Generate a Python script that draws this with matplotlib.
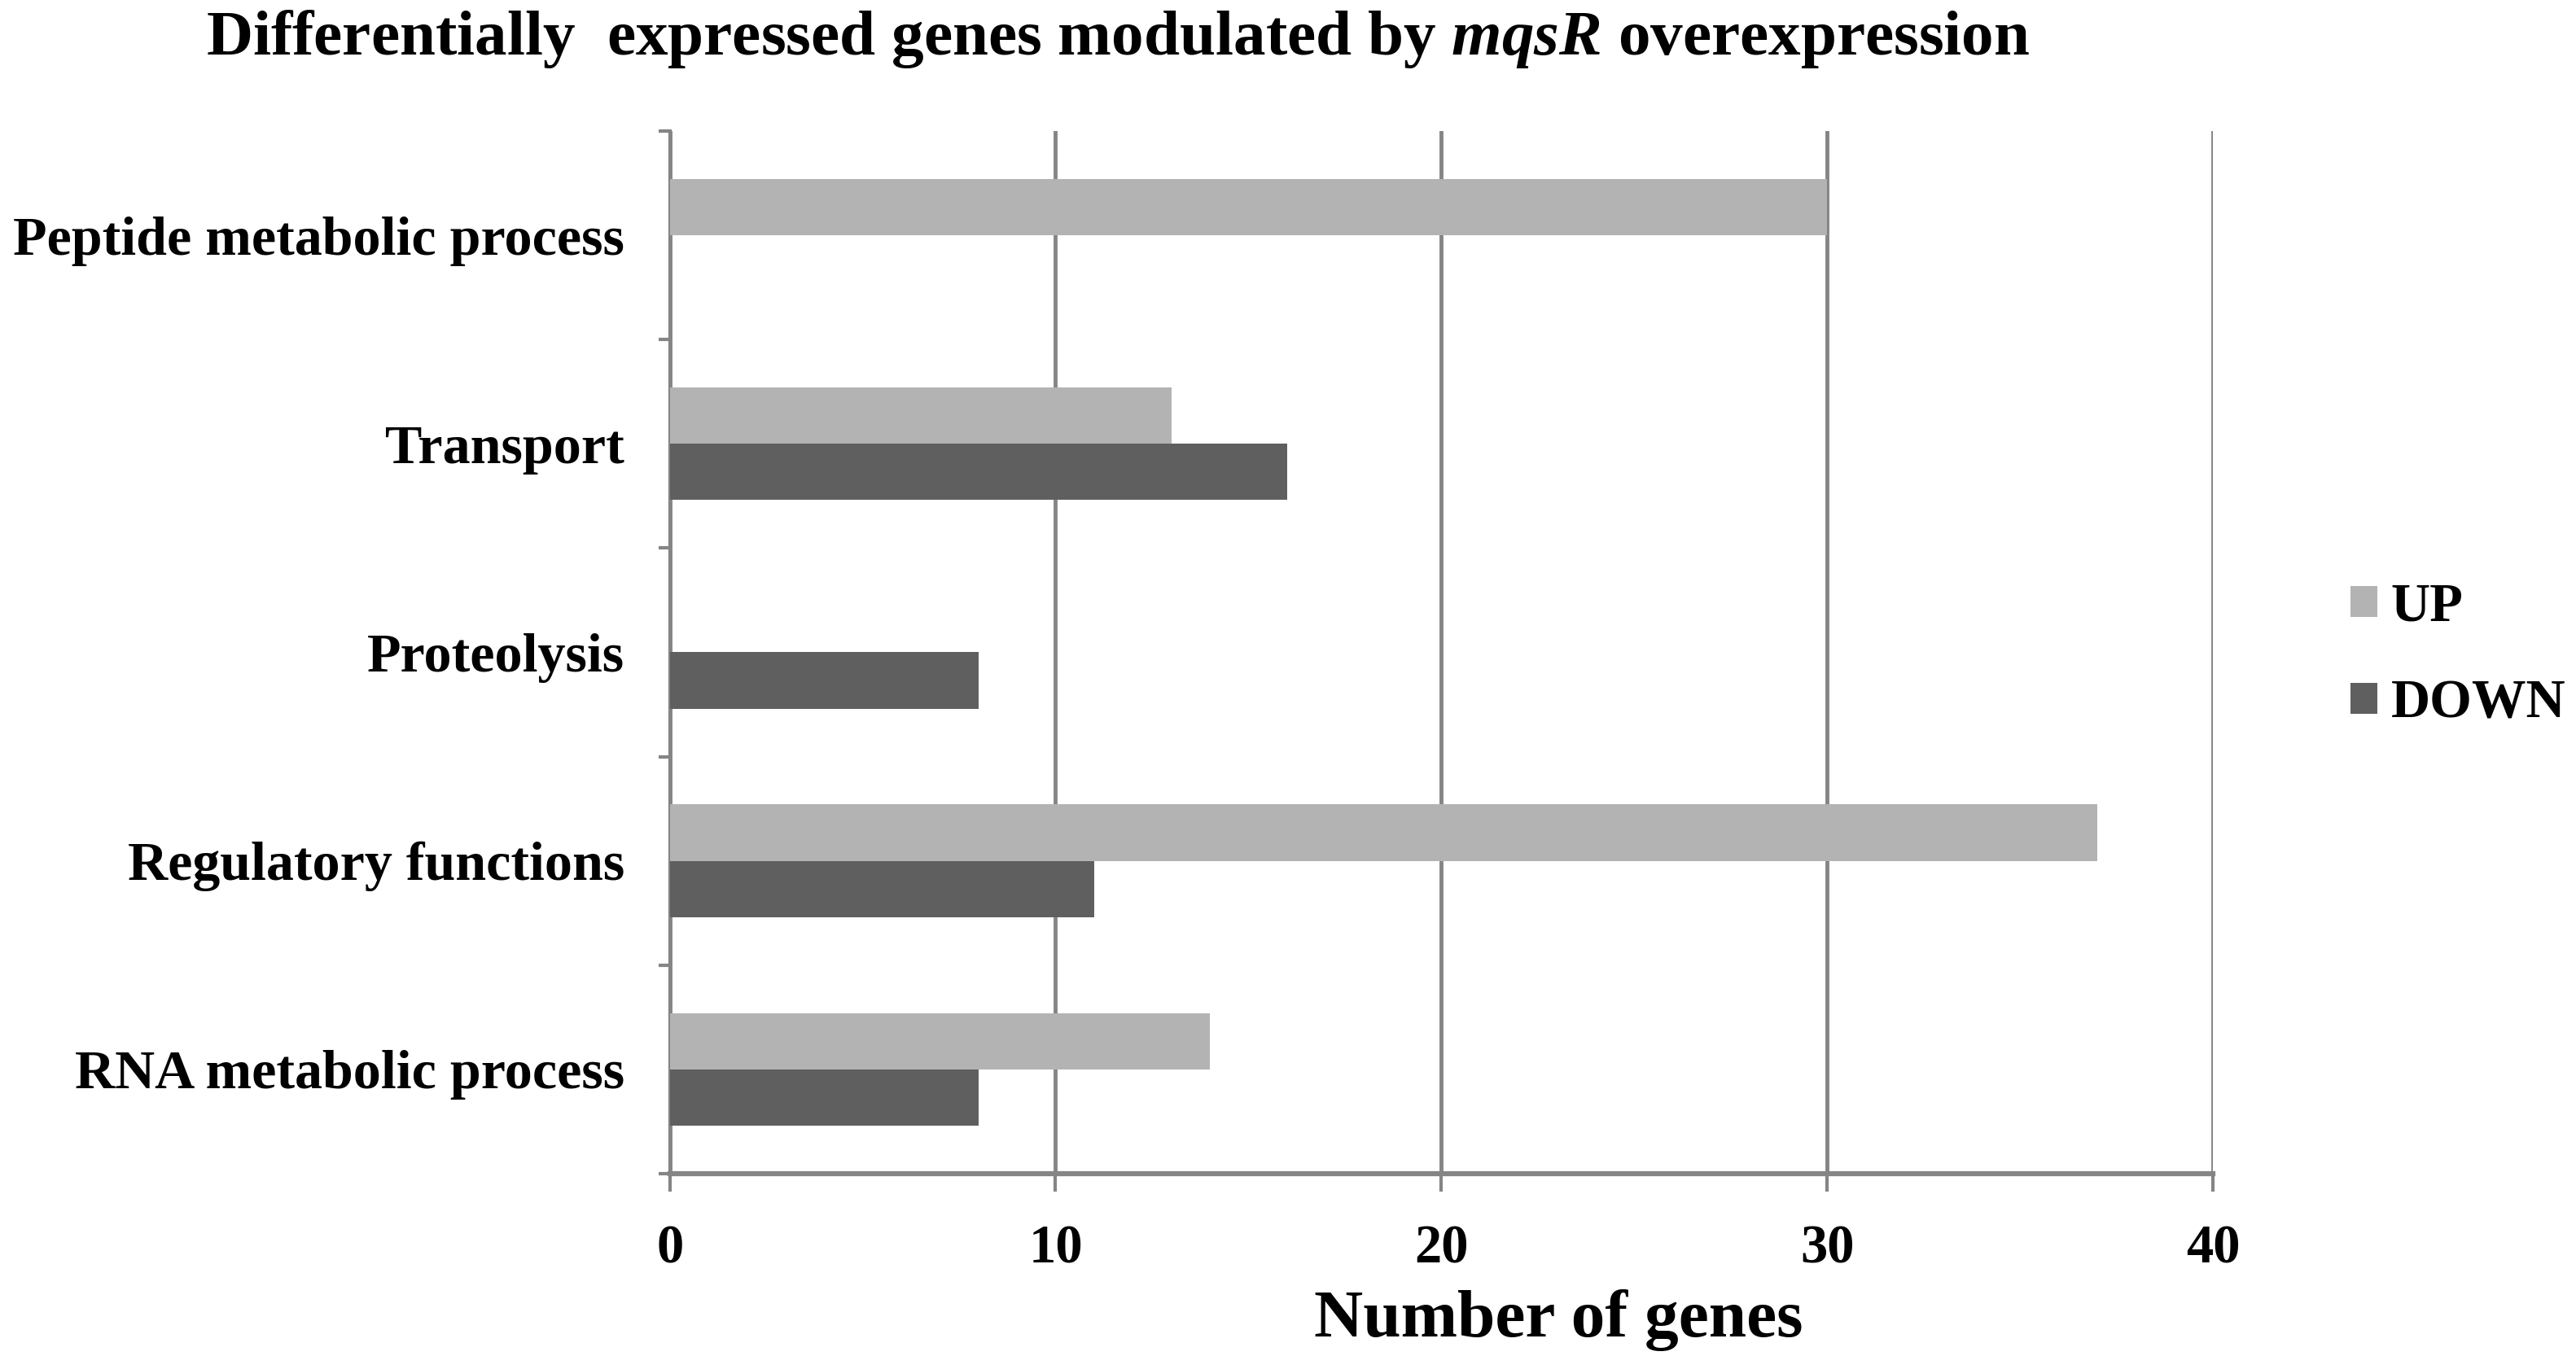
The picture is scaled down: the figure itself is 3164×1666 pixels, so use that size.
import matplotlib
matplotlib.use("Agg")
import matplotlib.pyplot as plt
import numpy as np

categories = ["Peptide metabolic process", "Transport", "Proteolysis",
              "Regulatory functions", "RNA metabolic process"]
up_values = [30, 13, 0, 37, 14]
down_values = [0, 16, 8, 11, 8]
x_ticks = [0, 10, 20, 30, 40]
series_labels = ["UP", "DOWN"]

plt.rcParams['font.family'] = ['Liberation Serif', 'DejaVu Serif']
plt.rcParams['font.weight'] = 'bold'
plt.rcParams['mathtext.fontset'] = 'custom'
plt.rcParams['mathtext.it'] = 'Liberation Serif:italic:bold'
plt.rcParams['mathtext.rm'] = 'Liberation Serif:bold'

fig = plt.figure(figsize=(31.64, 16.66), dpi=100)
ax = fig.add_axes([0.260, 0.1345, 0.599, 0.7689])

up_c = '#b3b3b3'
down_c = '#5f5f5f'
grid_c = '#858585'
h = 0.27
y = np.arange(len(categories))
ax.barh(y - h / 2, up_values, height=h, color=up_c, label=series_labels[0], zorder=3)
ax.barh(y + h / 2, down_values, height=h, color=down_c, label=series_labels[1], zorder=3)

ax.set_xlim(0, 40)
ax.set_ylim(len(categories) - 0.5, -0.5)
ax.set_xticks(x_ticks)
ax.set_xticklabels([str(t) for t in x_ticks], fontsize=48, fontweight='bold')
ax.tick_params(axis='x', direction='out', length=16, width=3, color=grid_c, pad=29)

ax.set_yticks(np.arange(len(categories) + 1) - 0.5)
ax.set_yticklabels([])
ax.tick_params(axis='y', which='major', direction='out', length=10, width=3, color=grid_c)
ax.set_yticks(y, minor=True)
ax.set_yticklabels(categories, minor=True, fontsize=49, fontweight='bold')
ax.tick_params(axis='y', which='minor', length=0, pad=40)

ax.grid(axis='x', color=grid_c, linewidth=3.5, zorder=0)
for s in ['top', 'right']:
    ax.spines[s].set_visible(False)
ax.spines['left'].set_color(grid_c)
ax.spines['left'].set_linewidth(3)
ax.spines['bottom'].set_color(grid_c)
ax.spines['bottom'].set_linewidth(4.5)

ax.set_xlabel("Number of genes", fontsize=60, fontweight='bold')
ax.xaxis.set_label_coords(0.576, -0.111)

fig.text(0.434, 0.971, "Differentially  expressed genes modulated by $\\it{mqsR}$ overexpression",
         ha='center', va='center', fontsize=57, fontweight='bold')

leg = ax.legend(loc='center left', bbox_to_anchor=(1.089, 0.497), frameon=False,
                fontsize=48, handlelength=0.5, handleheight=0.5, handletextpad=0.25,
                labelspacing=0.87, borderpad=0, borderaxespad=0)

fig.savefig("out.png", dpi=100)
